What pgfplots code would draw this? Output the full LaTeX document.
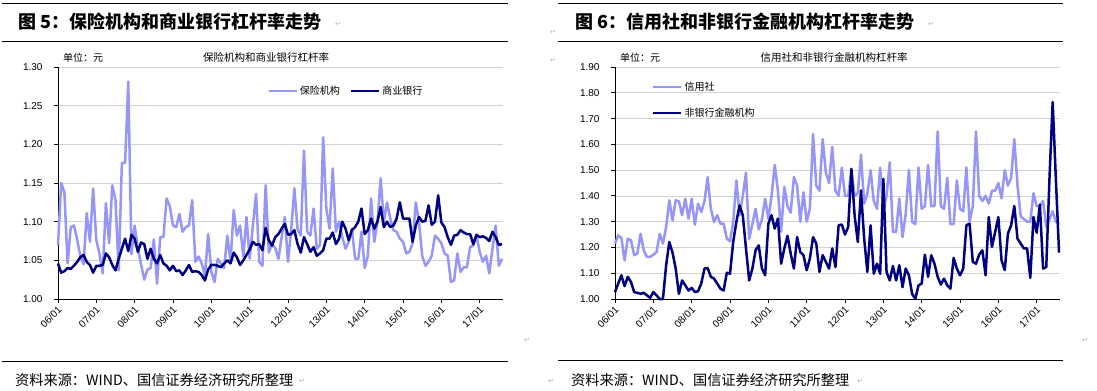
\documentclass[border=0pt]{standalone}
\usepackage{fontspec}
\usepackage{pgfplots}
\usepackage{pgfplotstable}
\pgfplotsset{compat=1.18}
\setmainfont{Liberation Sans}
\newfontfamily\cjk{Noto Sans CJK SC}
\newfontfamily\dejavu{DejaVu Sans}
\definecolor{lightser}{RGB}{150,150,250}
\definecolor{darkser}{RGB}{0,0,128}

\pgfplotstableread{
m ins bank
0 1.070 1.046
1 1.150 1.034
2 1.138 1.036
3 1.046 1.040
4 1.093 1.039
5 1.095 1.043
6 1.077 1.048
7 1.055 1.054
8 1.045 1.057
9 1.111 1.048
10 1.074 1.044
11 1.143 1.034
12 1.076 1.043
13 1.058 1.043
14 1.033 1.044
15 1.124 1.059
16 1.072 1.054
17 1.147 1.044
18 1.128 1.037
19 1.037 1.052
20 1.176 1.065
21 1.176 1.078
22 1.281 1.062
23 1.058 1.083
24 1.095 1.078
25 1.066 1.061
26 1.045 1.073
27 1.025 1.071
28 1.038 1.052
29 1.040 1.065
30 1.077 1.052
31 1.020 1.046
32 1.080 1.057
33 1.080 1.046
34 1.130 1.043
35 1.120 1.037
36 1.095 1.043
37 1.093 1.036
38 1.110 1.037
39 1.087 1.031
40 1.093 1.037
41 1.095 1.044
42 1.128 1.035
43 1.048 1.036
44 1.055 1.035
45 1.046 1.031
46 1.030 1.024
47 1.084 1.038
48 1.035 1.044
49 1.022 1.044
50 1.052 1.043
51 1.046 1.041
52 1.040 1.046
53 1.082 1.050
54 1.048 1.046
55 1.115 1.060
56 1.082 1.054
57 1.095 1.044
58 1.055 1.050
59 1.106 1.057
60 1.052 1.064
61 1.095 1.074
62 1.136 1.070
63 1.048 1.071
64 1.043 1.063
65 1.147 1.092
66 1.060 1.076
67 1.071 1.069
68 1.066 1.080
69 1.052 1.084
70 1.080 1.091
71 1.106 1.097
72 1.048 1.083
73 1.090 1.084
74 1.143 1.089
75 1.090 1.071
76 1.082 1.060
77 1.192 1.080
78 1.087 1.071
79 1.082 1.061
80 1.117 1.067
81 1.065 1.056
82 1.070 1.059
83 1.209 1.063
84 1.117 1.078
85 1.091 1.078
86 1.169 1.086
87 1.087 1.071
88 1.100 1.078
89 1.080 1.100
90 1.065 1.091
91 1.074 1.076
92 1.091 1.089
93 1.052 1.093
94 1.052 1.100
95 1.087 1.117
96 1.040 1.084
97 1.056 1.089
98 1.130 1.104
99 1.074 1.091
100 1.100 1.100
101 1.156 1.119
102 1.100 1.093
103 1.125 1.100
104 1.104 1.093
105 1.089 1.095
106 1.087 1.104
107 1.078 1.125
108 1.074 1.104
109 1.059 1.104
110 1.061 1.104
111 1.072 1.074
112 1.125 1.095
113 1.100 1.106
114 1.056 1.100
115 1.043 1.101
116 1.048 1.121
117 1.056 1.096
118 1.082 1.100
119 1.078 1.134
120 1.072 1.099
121 1.059 1.093
122 1.056 1.080
123 1.022 1.070
124 1.024 1.082
125 1.059 1.083
126 1.035 1.089
127 1.041 1.086
128 1.041 1.084
129 1.067 1.084
130 1.069 1.071
131 1.082 1.083
132 1.061 1.080
133 1.048 1.081
134 1.056 1.079
135 1.033 1.075
136 1.065 1.087
137 1.095 1.080
138 1.043 1.070
139 1.052 1.071
}\leftdata

\pgfplotstableread{
m cu nbfi
0 1.215 1.027
1 1.247 1.060
2 1.237 1.092
3 1.150 1.050
4 1.234 1.086
5 1.228 1.066
6 1.170 1.027
7 1.176 1.024
8 1.253 1.020
9 1.189 1.024
10 1.163 1.014
11 1.163 1.005
12 1.172 1.027
13 1.182 1.014
14 1.253 1.000
15 1.215 1.000
16 1.279 1.130
17 1.383 1.221
18 1.305 1.180
19 1.383 1.118
20 1.379 1.020
21 1.325 1.072
22 1.389 1.053
23 1.312 1.033
24 1.389 1.043
25 1.288 1.027
26 1.370 1.030
27 1.337 1.060
28 1.379 1.118
29 1.473 1.120
30 1.350 1.086
31 1.299 1.079
32 1.325 1.060
33 1.292 1.040
34 1.292 1.033
35 1.234 1.102
36 1.224 1.098
37 1.299 1.221
38 1.460 1.300
39 1.325 1.363
40 1.400 1.325
41 1.490 1.196
42 1.233 1.072
43 1.290 1.118
44 1.350 1.189
45 1.270 1.208
46 1.310 1.118
47 1.389 1.092
48 1.310 1.292
49 1.400 1.325
50 1.520 1.273
51 1.420 1.312
52 1.260 1.137
53 1.435 1.196
54 1.360 1.245
55 1.335 1.176
56 1.473 1.118
57 1.440 1.240
58 1.300 1.182
59 1.414 1.170
60 1.300 1.112
61 1.350 1.157
62 1.640 1.240
63 1.440 1.215
64 1.420 1.105
65 1.620 1.170
66 1.490 1.144
67 1.450 1.118
68 1.590 1.196
69 1.420 1.124
70 1.400 1.286
71 1.510 1.289
72 1.400 1.250
73 1.400 1.280
74 1.500 1.505
75 1.400 1.325
76 1.410 1.221
77 1.560 1.421
78 1.370 1.234
79 1.410 1.105
80 1.500 1.286
81 1.380 1.098
82 1.350 1.137
83 1.510 1.098
84 1.340 1.466
85 1.400 1.105
86 1.530 1.072
87 1.260 1.128
88 1.260 1.072
89 1.390 1.131
90 1.240 1.046
91 1.330 1.118
92 1.500 1.092
93 1.300 1.020
94 1.290 1.000
95 1.510 1.053
96 1.350 1.060
97 1.360 1.172
98 1.520 1.086
99 1.360 1.170
100 1.360 1.137
101 1.650 1.086
102 1.360 1.056
103 1.350 1.079
104 1.470 1.053
105 1.290 1.040
106 1.290 1.160
107 1.460 1.118
108 1.350 1.092
109 1.340 1.118
110 1.510 1.286
111 1.300 1.292
112 1.360 1.144
113 1.650 1.137
114 1.400 1.172
115 1.380 1.189
116 1.400 1.092
117 1.370 1.318
118 1.420 1.202
119 1.420 1.260
120 1.450 1.318
121 1.390 1.150
122 1.500 1.112
123 1.440 1.254
124 1.470 1.286
125 1.620 1.361
126 1.440 1.234
127 1.320 1.215
128 1.310 1.196
129 1.300 1.196
130 1.300 1.082
131 1.410 1.318
132 1.360 1.257
133 1.360 1.366
134 1.380 1.118
135 1.280 1.124
136 1.310 1.466
137 1.340 1.764
138 1.300 1.466
139 1.290 1.180
}\rightdata

\pgfplotsset{
  mystyle/.style={
    scale only axis, width=445bp, height=232bp,
    xmin=0, xmax=139.3,
    axis x line*=bottom, axis y line*=left,
    axis line style={line width=0.8bp, black},
    tick align=outside, major tick length=4bp,
    tick style={line width=0.8bp, black},
    xtick={0,12,24,36,48,60,72,84,96,108,120,132},
    xticklabels={06/01,07/01,08/01,09/01,10/01,11/01,12/01,13/01,14/01,15/01,16/01,17/01},
    xticklabel style={rotate=45, anchor=east, yshift=-5bp, xshift=1bp,
      font=\fontsize{10bp}{12bp}\selectfont},
    yticklabel style={font=\fontsize{10bp}{12bp}\selectfont, xshift=-8bp,
      /pgf/number format/fixed, /pgf/number format/fixed zerofill, /pgf/number format/precision=2},
    /pgf/number format/assume math mode=true,
    ymajorgrids, major grid style={gray!35, line width=0.6bp},
    clip=false,
    legend cell align=left,
    legend image code/.code={\draw[##1] (0bp,0bp) -- (28bp,0bp);},
    legend style={draw=none, fill=none, inner sep=0pt,
      font=\cjk\fontsize{10bp}{12bp}\selectfont},
  },
  lser/.style={color=lightser, line width=2.5bp, line join=round},
  dser/.style={color=darkser, line width=2.5bp, line join=round},
}

\begin{document}
\begin{tikzpicture}
\path[use as bounding box] (0,0) rectangle (1097bp,-391bp);
% rules
\draw[line width=0.9bp] (2bp,-3bp) -- (508bp,-3bp);
\draw[line width=0.9bp] (2bp,-41bp) -- (508bp,-41bp);
\draw[line width=0.9bp] (2bp,-361bp) -- (508bp,-361bp);
\draw[line width=0.9bp] (558bp,-3bp) -- (1063bp,-3bp);
\draw[line width=0.9bp] (558bp,-41bp) -- (1063bp,-41bp);
\draw[line width=0.9bp] (558bp,-360bp) -- (1063bp,-360bp);
% titles
\node[anchor=west, inner sep=0pt] at (18bp,-22bp) {\cjk\bfseries\fontsize{18bp}{20bp}\selectfont 图 5：保险机构和商业银行杠杆率走势};
\node[anchor=west, inner sep=0pt] at (575bp,-22bp) {\cjk\bfseries\fontsize{18bp}{20bp}\selectfont 图 6：信用社和非银行金融机构杠杆率走势};
% units and chart titles
\node[anchor=west, inner sep=0pt] at (63bp,-58bp) {\cjk\fontsize{10bp}{12bp}\selectfont 单位：元};
\node[anchor=west, inner sep=0pt] at (620bp,-58bp) {\cjk\fontsize{10bp}{12bp}\selectfont 单位：元};
\node[inner sep=0pt] at (266bp,-57bp) {\cjk\fontsize{10.5bp}{12bp}\selectfont 保险机构和商业银行杠杆率};
\node[inner sep=0pt] at (834bp,-57bp) {\cjk\fontsize{10.5bp}{12bp}\selectfont 信用社和非银行金融机构杠杆率};
% sources
\node[anchor=west, inner sep=0pt] at (15bp,-380bp) {\cjk\fontsize{14.2bp}{16bp}\selectfont 资料来源：WIND、国信证券经济研究所整理};
\node[anchor=west, inner sep=0pt] at (571bp,-380bp) {\cjk\fontsize{14.2bp}{16bp}\selectfont 资料来源：WIND、国信证券经济研究所整理};
% paragraph marks
\foreach \px/\py in {338/24, 931/24, 553/32, 553/60, 302/381, 860/381, 551/381, 527/340, 1085/340} {
  \node[inner sep=0pt, text=gray!60] at (\px bp,-\py bp) {\dejavu\fontsize{7bp}{8bp}\selectfont ↵};
}

\begin{axis}[mystyle, at={(58bp,-299bp)}, anchor=south west,
  ymin=1, ymax=1.3, ytick={1,1.05,1.1,1.15,1.2,1.25,1.3},
  legend columns=2,
  legend style={at={(0.47,0.897)}, anchor=west,
    /tikz/every even column/.append style={column sep=8bp}}]
\addplot[lser] table[x=m, y=ins] {\leftdata};
\addlegendentry{保险机构}
\addplot[dser] table[x=m, y=bank] {\leftdata};
\addlegendentry{商业银行}
\end{axis}

\begin{axis}[mystyle, at={(615bp,-299bp)}, anchor=south west,
  ymin=1, ymax=1.9, ytick={1,1.1,1.2,1.3,1.4,1.5,1.6,1.7,1.8,1.9},
  legend columns=1,
  legend style={at={(0.083,0.944)}, anchor=north west, row sep=12bp}]
\addplot[lser] table[x=m, y=cu] {\rightdata};
\addlegendentry{信用社}
\addplot[dser] table[x=m, y=nbfi] {\rightdata};
\addlegendentry{非银行金融机构}
\end{axis}
\end{tikzpicture}
\end{document}
